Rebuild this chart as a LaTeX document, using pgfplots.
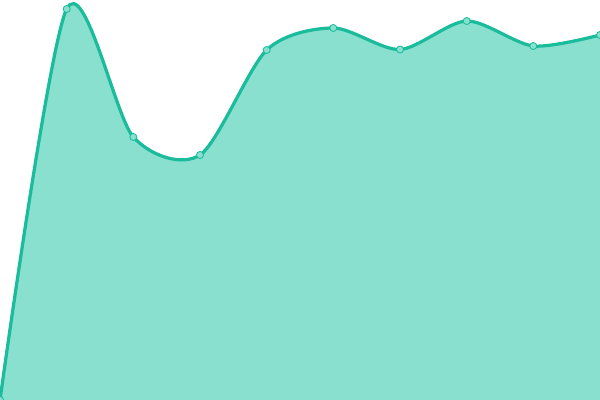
\documentclass[border=0pt]{standalone}
\usepackage{pgfplots}
\pgfplotsset{compat=1.18}
\definecolor{lineC}{RGB}{26,188,156}
\definecolor{fillC}{RGB}{137,224,207}
\begin{document}
\begin{tikzpicture}
\begin{axis}[
  name=ax,
  scale only axis, width=15cm, height=10cm,
  xmin=0, xmax=600, ymin=0, ymax=400,
  hide axis, clip=true, clip mode=global,
]
\addplot[draw=none, fill=fillC, smooth, tension=0.48] coordinates {
(0,0) (66.7,391) (133.3,263) (200,245) (266.7,350) (333.3,372) (400,350.5) (466.7,379) (533.3,354) (600,365)
} \closedcycle;
\addplot[lineC, line width=2.3pt, smooth, tension=0.48, mark=*, mark size=2.5pt,
  mark options={fill=fillC, draw=lineC, line width=0.6pt}] coordinates {
(0,0) (66.7,391) (133.3,263) (200,245) (266.7,350) (333.3,372) (400,350.5) (466.7,379) (533.3,354) (600,365)
};
\end{axis}
\pgfresetboundingbox
\path (ax.south west) rectangle (ax.north east);
\end{tikzpicture}
\end{document}
